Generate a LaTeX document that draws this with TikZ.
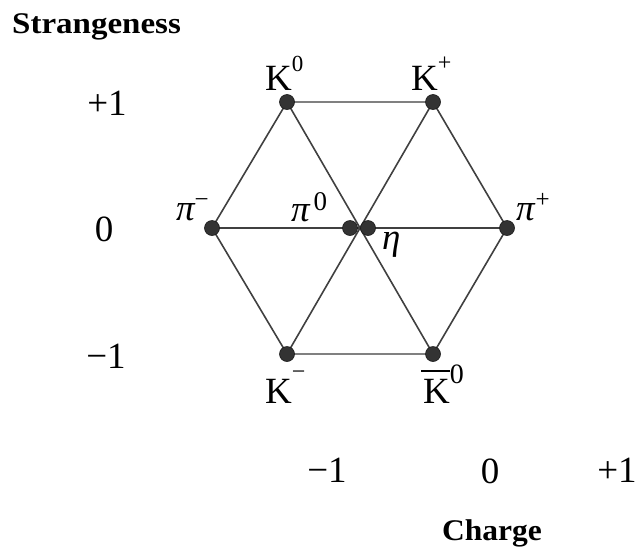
\documentclass[tikz,border=0pt]{standalone}
\usepackage{fontspec}
\setmainfont{Liberation Serif}
\usetikzlibrary{backgrounds}
\newcommand\upidx[3]{\raisebox{#1pt}{\fontsize{#2}{#2}\selectfont #3}}
\newcommand\barK{\leavevmode\rlap{\hspace{-2pt}\raisebox{31pt}{\rule{29pt}{1.8pt}}}K}
\tikzset{
  dot/.style={circle,fill=black!80,draw=black!90,line width=0.6pt,minimum size=15pt,inner sep=0pt},
  lbl/.style={inner sep=0pt,anchor=base west,font=\fontsize{37}{40}\selectfont},
  num/.style={inner sep=0pt,anchor=base,font=\fontsize{37}{40}\selectfont},
  axis/.style={inner sep=0pt,anchor=base west,font=\fontsize{30}{34}\selectfont\bfseries},
  edge/.style={line width=1.6pt,draw=black!75},
  lightedge/.style={line width=1.6pt,draw=black!50}
}
\begin{document}
\begin{tikzpicture}[x=1pt,y=-1pt]
\useasboundingbox (0,0) rectangle (642,552);
% dots
\node[dot] (k0) at (287,102) {};
\node[dot] (kp) at (433,102) {};
\node[dot] (pim) at (212,228) {};
\node[dot] (pi0) at (350,228) {};
\node[dot] (eta) at (368,228) {};
\node[dot] (pip) at (507,228) {};
\node[dot] (km) at (287,354) {};
\node[dot] (kb0) at (433,354) {};
\begin{scope}[on background layer]
\draw[lightedge] (k0.center) -- (kp.center);
\draw[lightedge] (km.center) -- (kb0.center);
\draw[edge] (pim.center) -- (pip.center);
\draw[edge] (k0.center) -- (pim.center);
\draw[edge] (pim.center) -- (km.center);
\draw[edge] (kp.center) -- (pip.center);
\draw[edge] (pip.center) -- (kb0.center);
\draw[edge] (k0.center) -- (kb0.center);
\draw[edge] (kp.center) -- (km.center);
\end{scope}
% particle labels
\node[lbl] (lk0) at (265,90) {K\upidx{19}{23}{0}};
\node[lbl] (lkp) at (411,90) {K\upidx{20}{24}{+}};
\node[lbl] (lkm) at (265,403) {K\upidx{24}{24}{−}};
\node[lbl] (lkb0) at (423,403) {\barK\upidx{20}{28}{0}};
\node[lbl] (lpim) at (176,220) {\itshape π\upidx{13}{25}{\upshape −}};
\node[lbl] (lpi0) at (291,221) {\itshape π\hspace{4pt}\upidx{11}{27}{\upshape 0}};
\node[lbl] (lpip) at (516,220) {\itshape π\hspace{1pt}\upidx{13}{25}{\upshape +}};
\node[lbl] (leta) at (382,249) {\itshape η};
% strangeness axis
\node[axis] (strange) at (12,33) {\scalebox{1.1}[1]{Strangeness}};
\node[num] (sp1) at (107,115) {+1};
\node[num] (s0) at (104,241) {0};
\node[num] (sm1) at (106,368) {−1};
% charge axis
\node[num] (cm1) at (327,482) {−1};
\node[num] (c0) at (490,483) {0};
\node[num] (cp1) at (617,482) {+1};
\node[axis] (charge) at (442,540) {\scalebox{1.05}[1]{Charge}};
\end{tikzpicture}
\end{document}
